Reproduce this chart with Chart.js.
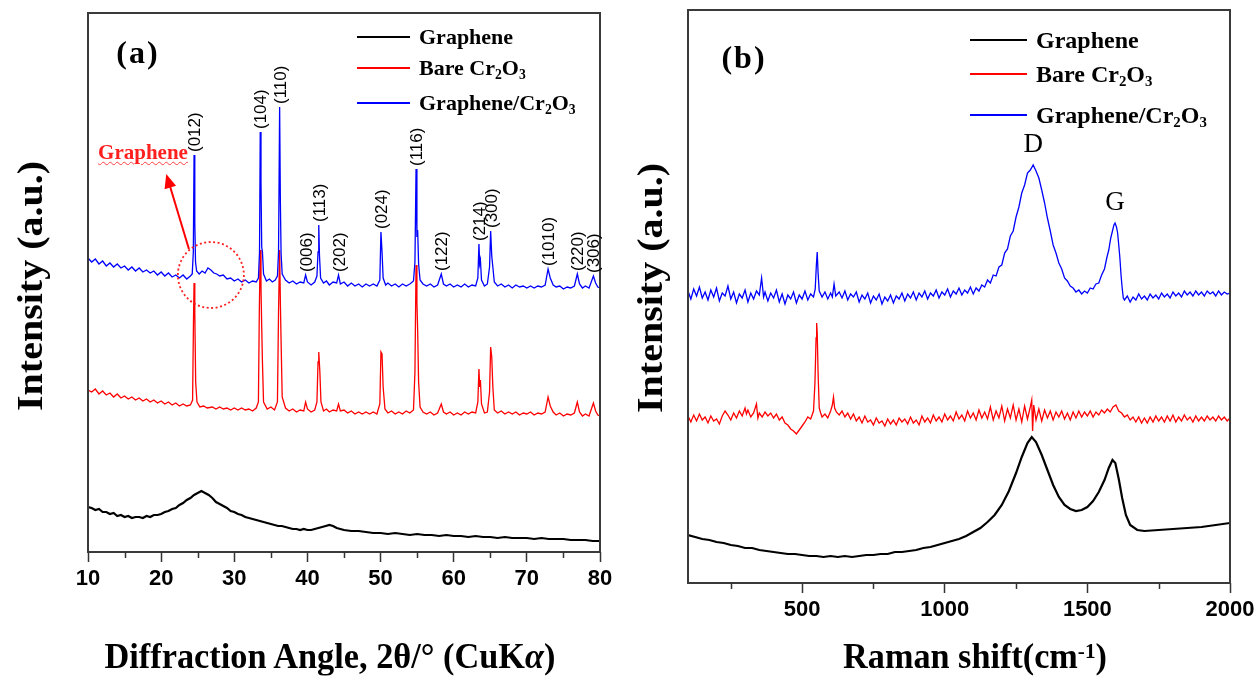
<!DOCTYPE html>
<html><head><meta charset="utf-8">
<script src="https://cdn.jsdelivr.net/npm/chart.js@4.4.1/dist/chart.umd.min.js"></script>
<style>
body{margin:0;background:#fff;}
#page{position:relative;width:1259px;height:676px;overflow:hidden;font-family:"Liberation Serif","Times New Roman",serif;}
.pane{position:absolute;top:0;height:676px;}
.t{position:absolute;white-space:nowrap;line-height:1;color:#000;}
sub{font-size:62%;vertical-align:-0.28em;line-height:0;}
sup{font-size:62%;vertical-align:0.45em;line-height:0;}
</style></head>
<body><div id="page">
<div class="pane" id="pL" style="left:0;width:640px"><canvas id="cL"></canvas></div>
<div class="pane" id="pR" style="left:640px;width:619px"><canvas id="cR"></canvas></div>
</div>
<script>
// ---------------- DATA (a) XRD ----------------
const xrdTicks = [10,20,30,40,50,60,70,80];
const xrdMinorTicks = [15,25,35,45,55,65,75];
const xrdComposite = [[10,294],[10.5,290],[11,293],[11.5,288],[12,291],[12.5,286],[13,289],[13.5,285],[14,288],[14.5,284],[15,286],[15.5,282],[16,285],[16.5,281],[17,284],[17.5,280],[18,282],[18.5,279],[19,281],[19.5,277],[20,280],[20.5,276],[21,279],[21.5,275],[22,277],[22.5,274],[23,277],[23.5,273],[24,276],[24.25,278],[24.4,300],[24.5,397],[24.6,330],[24.7,290],[24.85,281],[25.2,278],[25.6,281],[26,279],[26.4,284],[26.8,282],[27.2,279],[27.6,278],[28,276],[28.5,277],[29,273],[29.5,274],[30,271],[30.5,273],[31,270],[31.5,272],[32,269],[32.5,271],[33,270],[33.3,274],[33.45,300],[33.55,420],[33.65,370],[33.75,305],[33.85,300],[34,278],[34.4,271],[34.8,273],[35.2,270],[35.6,272],[35.9,276],[36.05,300],[36.2,445],[36.3,350],[36.4,298],[36.55,278],[37,272],[37.5,269],[38,271],[38.5,268],[39,270],[39.5,269],[39.75,277],[40,270],[40.5,267],[41,270],[41.3,276],[41.45,300],[41.55,327],[41.65,296],[41.8,274],[42.2,269],[42.6,271],[43,267],[43.5,270],[44,269],[44.25,277],[44.5,268],[45,270],[45.5,266],[46,269],[46.5,266],[47,268],[47.5,265],[48,268],[48.5,266],[49,268],[49.5,266],[49.9,272],[50.05,320],[50.2,300],[50.35,274],[50.7,267],[51,269],[51.5,266],[52,268],[52.5,265],[53,268],[53.5,266],[54,268],[54.5,271],[54.7,290],[54.85,383],[54.97,315],[55.07,322],[55.2,288],[55.4,272],[55.8,268],[56.3,266],[56.8,268],[57.3,265],[57.8,267],[58.3,278],[58.6,268],[59,266],[59.5,268],[60,265],[60.5,267],[61,265],[61.5,268],[62,265],[62.5,267],[63,266],[63.3,274],[63.45,308],[63.55,288],[63.65,292],[63.8,272],[64.2,266],[64.6,268],[64.9,285],[65.05,321],[65.2,296],[65.35,285],[65.55,270],[66,266],[66.5,268],[67,265],[67.5,267],[68,264],[68.5,267],[69,265],[69.5,266],[70,264],[70.5,266],[71,264],[71.5,266],[72,265],[72.5,267],[72.9,283],[73.2,274],[73.6,267],[74,265],[74.5,266],[75,263],[75.5,265],[76,264],[76.5,266],[76.9,278],[77.2,268],[77.6,264],[78,266],[78.5,264],[79.1,276],[79.4,269],[79.7,265],[80,264]];
const xrdBare = [[10,162],[10.5,160],[11,163],[11.5,158],[12,161],[12.5,157],[13,159],[13.5,155],[14,158],[14.5,154],[15,156],[15.5,153],[16,155],[16.5,152],[17,154],[17.5,151],[18,153],[18.5,150],[19,152],[19.5,149],[20,151],[20.5,148],[21,150],[21.5,147],[22,149],[22.5,146],[23,148],[23.5,146],[24,147],[24.3,152],[24.42,230],[24.5,269],[24.6,240],[24.72,170],[24.9,150],[25.3,145],[25.8,146],[26.3,144],[27,145],[27.5,143],[28,145],[28.5,143],[29,144],[29.5,142],[30,144],[30.5,142],[31,144],[31.5,142],[32,143],[32.5,141],[33,144],[33.3,150],[33.42,240],[33.55,302],[33.65,265],[33.75,225],[33.85,190],[34,150],[34.5,143],[35,145],[35.5,142],[35.9,150],[36.05,240],[36.2,302],[36.3,250],[36.4,210],[36.55,155],[37,144],[37.5,141],[38,143],[38.5,140],[39,142],[39.5,141],[39.75,150],[40,143],[40.5,140],[41,142],[41.3,150],[41.45,190],[41.55,200],[41.7,180],[41.85,150],[42.2,141],[42.6,143],[43,140],[43.5,142],[44,141],[44.25,148],[44.5,141],[45,142],[45.5,139],[46,141],[46.5,138],[47,140],[47.5,138],[48,140],[48.5,138],[49,140],[49.5,138],[49.9,148],[50.05,200],[50.2,198],[50.35,165],[50.6,143],[51,139],[51.5,141],[52,138],[52.5,140],[53,138],[53.5,141],[54,139],[54.5,142],[54.7,180],[54.85,287],[54.97,250],[55.07,222],[55.2,170],[55.4,145],[55.8,140],[56.3,138],[56.8,140],[57.3,137],[57.8,139],[58.3,148],[58.6,140],[59,138],[59.5,140],[60,137],[60.5,139],[61,137],[61.5,140],[62,138],[62.5,140],[63,139],[63.3,150],[63.45,183],[63.55,165],[63.65,172],[63.8,148],[64.2,139],[64.6,140],[64.9,160],[65.05,205],[65.2,195],[65.35,165],[65.55,142],[66,139],[66.5,141],[67,138],[67.5,140],[68,138],[68.5,140],[69,137],[69.5,139],[70,138],[70.5,140],[71,137],[71.5,139],[72,138],[72.5,140],[72.9,155],[73.2,146],[73.6,140],[74,137],[74.5,139],[75,136],[75.5,138],[76,137],[76.5,139],[76.9,150],[77.2,140],[77.6,136],[78,138],[78.5,136],[79.1,149],[79.4,141],[79.7,137],[80,136]];
const xrdGraphene = [[10,45],[10.5,44],[11,42],[11.5,43],[12,40],[12.5,40],[13,38],[13.5,39],[14,36],[14.5,37],[15,35],[15.5,36],[16,34],[16.5,35],[17,35],[17.5,34],[18,36],[18.5,35],[19,37],[19.5,37],[20,38],[20.5,40],[21,41],[21.5,43],[22,44],[22.5,47],[23,49],[23.5,52],[24,54],[24.5,57],[25,59],[25.5,61],[26,59],[26.5,57],[27,54],[27.5,50],[28,48],[28.5,46],[29,44],[29.5,41],[30,40],[30.5,38],[31,37],[31.5,35],[32,34],[32.5,33],[33,32],[33.5,31],[34,30],[34.5,29],[35,28],[35.5,27],[36,26],[36.5,26],[37,25],[37.5,24],[38,23],[38.5,23],[39,22],[39.5,23],[40,22],[40.5,22],[41,23],[41.5,24],[42,25],[42.5,26],[43,27],[43.5,26],[44,24],[44.5,23],[45,22],[46,21],[47,21],[48,20],[49,19],[50,19],[51,18],[52,19],[53,18],[54,17],[55,18],[56,17],[57,17],[58,16],[59,17],[60,16],[61,16],[62,15],[63,16],[64,15],[65,15],[66,14],[67,15],[68,14],[69,14],[70,14],[71,13],[72,14],[73,13],[74,13],[75,13],[76,12],[77,12],[78,12],[79,11],[80,11]];
const xrdPeakLabels = ['(012)','(104)','(110)','(006)','(113)','(202)','(024)','(116)','(122)','(214)','(300)','(1010)','(220)','(306)'];
const xrdPeakAngles = [24.5,33.55,36.2,39.75,41.55,44.25,50.05,54.85,58.3,63.45,65.05,72.9,76.9,79.1];

// ---------------- DATA (b) Raman ----------------
const ramanTicks = [500,1000,1500,2000];
const ramanMinorTicks = [250,750,1250,1750];
const ramanComposite = [[100,292],[110,284],[120,294],[130,287],[140,296],[150,285],[160,291],[170,283],[180,293],[190,286],[200,295],[210,282],[220,290],[230,287],[240,297],[250,284],[260,291],[270,280],[280,289],[290,285],[300,293],[310,281],[320,290],[330,284],[340,292],[350,288],[358,305],[365,286],[370,291],[380,282],[390,290],[400,285],[410,293],[420,281],[430,289],[440,279],[450,288],[460,284],[470,291],[480,280],[490,288],[500,284],[510,292],[520,283],[530,289],[540,286],[546,294],[550,318],[553,331],[556,310],[560,292],[570,286],[580,291],[590,284],[600,290],[606,286],[612,299],[618,287],[630,291],[640,285],[650,292],[660,283],[670,289],[680,286],[690,291],[700,281],[710,288],[720,284],[730,290],[740,280],[750,287],[760,283],[770,289],[780,279],[790,286],[800,282],[810,288],[820,280],[830,287],[840,284],[850,290],[860,282],[870,289],[880,285],[890,291],[900,283],[910,290],[920,286],[930,292],[940,284],[950,290],[960,287],[970,293],[980,285],[990,291],[1000,288],[1010,294],[1020,286],[1030,292],[1040,289],[1050,295],[1060,288],[1070,293],[1080,290],[1090,296],[1100,289],[1110,295],[1120,292],[1130,298],[1140,296],[1150,303],[1160,300],[1170,308],[1180,307],[1190,316],[1200,318],[1210,330],[1220,334],[1230,347],[1240,352],[1250,366],[1260,376],[1270,390],[1280,398],[1290,410],[1300,413],[1310,418],[1320,412],[1330,405],[1340,393],[1350,380],[1360,365],[1370,352],[1380,338],[1390,330],[1400,320],[1410,314],[1420,305],[1430,302],[1440,297],[1450,295],[1460,291],[1470,293],[1480,289],[1490,292],[1500,290],[1510,295],[1520,294],[1530,299],[1540,300],[1550,308],[1560,314],[1568,325],[1575,333],[1582,345],[1588,352],[1593,358],[1597,360],[1602,356],[1606,350],[1610,338],[1614,325],[1618,308],[1622,295],[1626,285],[1630,283],[1640,287],[1650,281],[1660,286],[1670,283],[1680,289],[1690,284],[1700,287],[1710,283],[1720,289],[1730,285],[1740,288],[1750,284],[1760,290],[1770,286],[1780,289],[1790,285],[1800,291],[1810,287],[1820,290],[1830,286],[1840,292],[1850,288],[1860,291],[1870,287],[1880,292],[1890,288],[1900,291],[1910,287],[1920,292],[1930,289],[1940,291],[1950,287],[1960,292],[1970,288],[1980,291],[1990,289],[2000,290]];
const ramanBare = [[100,167],[110,161],[120,168],[130,162],[140,169],[150,163],[160,166],[170,160],[180,167],[190,162],[200,164],[210,159],[220,167],[230,172],[240,168],[250,163],[260,170],[270,165],[280,172],[290,167],[300,175],[305,169],[310,173],[320,166],[330,170],[340,179],[345,165],[350,170],[360,166],[370,171],[380,167],[390,170],[400,165],[410,169],[420,163],[430,166],[440,160],[450,158],[460,154],[470,152],[480,149],[490,153],[500,157],[510,161],[520,166],[530,164],[540,172],[545,200],[549,245],[551,260],[553,250],[556,210],[560,175],[565,170],[570,166],[580,169],[590,165],[600,172],[606,178],[610,186],[614,175],[620,171],[630,168],[640,172],[650,166],[660,170],[670,164],[680,169],[690,162],[700,166],[710,160],[720,167],[730,161],[740,163],[750,158],[760,165],[770,160],[780,162],[790,157],[800,164],[810,159],[820,163],[830,158],[840,165],[850,161],[860,164],[870,159],[880,166],[890,160],[900,163],[910,158],[920,167],[930,161],[940,165],[950,160],[960,168],[970,162],[980,166],[990,161],[1000,169],[1010,163],[1020,167],[1030,162],[1040,171],[1050,164],[1060,168],[1070,162],[1080,172],[1090,165],[1100,170],[1110,163],[1120,173],[1130,165],[1140,171],[1150,164],[1160,176],[1170,163],[1180,172],[1190,165],[1200,177],[1210,162],[1220,174],[1230,165],[1240,178],[1250,163],[1260,174],[1270,161],[1280,177],[1290,164],[1300,176],[1305,183],[1308,152],[1312,178],[1320,163],[1330,174],[1340,162],[1350,173],[1360,165],[1370,172],[1380,163],[1390,171],[1400,166],[1410,172],[1420,164],[1430,170],[1440,163],[1450,171],[1460,165],[1470,172],[1480,166],[1490,171],[1500,167],[1510,172],[1520,166],[1530,171],[1540,168],[1550,173],[1560,170],[1570,174],[1580,171],[1590,176],[1600,178],[1610,172],[1620,170],[1630,166],[1640,168],[1650,163],[1660,166],[1670,161],[1680,166],[1690,160],[1700,165],[1710,160],[1720,166],[1730,161],[1740,167],[1750,162],[1760,166],[1770,161],[1780,167],[1790,162],[1800,168],[1810,161],[1820,166],[1830,162],[1840,168],[1850,163],[1860,166],[1870,161],[1880,167],[1890,162],[1900,166],[1910,162],[1920,167],[1930,163],[1940,166],[1950,162],[1960,167],[1970,163],[1980,166],[1990,162],[2000,165]];
const ramanGraphene = [[100,48],[125,46],[150,44],[175,43],[200,41],[225,40],[250,38],[275,37],[300,35],[325,35],[350,33],[375,32],[400,31],[425,30],[450,29],[475,29],[500,28],[525,27],[550,27],[575,26],[600,27],[625,26],[650,27],[675,26],[700,27],[725,28],[750,28],[775,29],[800,29],[825,31],[850,31],[875,32],[900,33],[925,35],[950,36],[975,38],[1000,40],[1025,42],[1050,44],[1075,47],[1100,51],[1125,55],[1150,61],[1175,68],[1200,78],[1225,92],[1250,110],[1270,126],[1290,140],[1305,146],[1320,141],[1340,128],[1360,113],[1380,98],[1400,86],[1420,78],[1440,74],[1460,72],[1480,73],[1500,76],[1520,82],[1540,91],[1560,103],[1575,115],[1588,123],[1598,120],[1610,104],[1622,85],[1635,68],[1650,58],[1675,53],[1700,52],[1750,53],[1800,54],[1850,55],[1900,56],[1950,58],[2000,60]];
const ramanBandLabels = ['D','G'];
const ramanBandShifts = [1310,1597];

const seriesNames = ['Graphene','Bare Cr<sub>2</sub>O<sub>3</sub>','Graphene/Cr<sub>2</sub>O<sub>3</sub>'];
const seriesColors = ['#000000','#ff0000','#0000ff'];

// ---------------- helpers ----------------
const toXY = a => a.map(p => ({x:p[0], y:p[1]}));
const page = document.getElementById('page');
function addText(html, x, y, css, transform, fitW){
  const d = document.createElement('div');
  d.className = 't';
  d.innerHTML = html;
  d.style.left = x + 'px'; d.style.top = y + 'px';
  Object.assign(d.style, css || {});
  page.appendChild(d);
  let tf = transform || 'translate(-50%,-50%)';
  if (fitW) tf += ` scale(${(fitW / d.offsetWidth).toFixed(4)},1)`;
  d.style.transform = tf;
  return d;
}
function addLine(x1, x2, y, color, w){
  const d = document.createElement('div');
  d.style.cssText = `position:absolute;left:${x1}px;top:${y - w/2}px;width:${x2-x1}px;height:${w}px;background:${color}`;
  page.appendChild(d);
}

function framePlugin(minor, extra){
  return {
    id:'frame',
    afterDatasetsDraw(chart){
      const {ctx, chartArea:a, scales} = chart;
      ctx.save();
      ctx.strokeStyle = '#3a3a3a'; ctx.lineWidth = 2;
      ctx.strokeRect(a.left, a.top, a.right - a.left, a.bottom - a.top);
      ctx.lineWidth = 1.5; ctx.strokeStyle = '#333';
      minor.forEach(v => {
        const x = Math.round(scales.x.getPixelForValue(v)) + 0.5;
        ctx.beginPath(); ctx.moveTo(x, a.bottom); ctx.lineTo(x, a.bottom + 6); ctx.stroke();
      });
      if (extra) extra(chart, ctx);
      ctx.restore();
    }
  };
}

function makeChart(id, opt){
  const ds = [
    {data: toXY(opt.series[2]), borderColor: seriesColors[2], borderWidth: 1.3, order: 0},
    {data: toXY(opt.series[1]), borderColor: seriesColors[1], borderWidth: 1.3, order: 1},
    {data: toXY(opt.series[0]), borderColor: seriesColors[0], borderWidth: 2.2, order: 2}
  ].map(d => Object.assign(d, {pointRadius:0, tension:0, fill:false}));
  return new Chart(document.getElementById(id), {
    type:'line',
    data:{datasets: ds},
    options:{
      responsive:true, maintainAspectRatio:false, animation:false, devicePixelRatio:1,
      layout:{padding: opt.padding},
      plugins:{legend:{display:false}, tooltip:{enabled:false}},
      scales:{
        x:{type:'linear', min: opt.xMin, max: opt.xMax,
           afterBuildTicks: s => { s.ticks = opt.ticks.map(v => ({value:v})); },
           afterFit: s => { s.height = 50; },
           border:{display:false},
           grid:{drawOnChartArea:false, drawTicks:true, tickLength:10, tickColor:'#333', tickWidth:1.5},
           ticks:{autoSkip:false, maxRotation:0, padding:4, color:'#000',
                  callback: v => String(v),
                  font:{family:'"Liberation Sans", Arial, sans-serif', size:22, weight:'bold'}}},
        y:{display:false, min:0, max: opt.yMax}
      }
    },
    plugins:[framePlugin(opt.minor, opt.extra)]
  });
}

// ---------------- charts ----------------
const chartL = makeChart('cL', {
  xMin:10, xMax:80, yMax:539, ticks: xrdTicks, minor: xrdMinorTicks,
  series:[xrdGraphene, xrdBare, xrdComposite],
  padding:{left:88, top:13, right:40, bottom:74},
  extra(chart, ctx){
    const sx = chart.scales.x, sy = chart.scales.y;
    ctx.strokeStyle = '#ff2020'; ctx.lineWidth = 1.8; ctx.setLineDash([2,2.5]);
    ctx.beginPath(); ctx.arc(sx.getPixelForValue(26.8), sy.getPixelForValue(277), 33, 0, Math.PI*2); ctx.stroke();
    ctx.setLineDash([]);
    const x1 = sx.getPixelForValue(23.8), y1 = sy.getPixelForValue(303);
    const x2 = sx.getPixelForValue(20.7), y2 = sy.getPixelForValue(378);
    ctx.strokeStyle = '#ff0000'; ctx.fillStyle = '#ff0000'; ctx.lineWidth = 2;
    const ang = Math.atan2(y2 - y1, x2 - x1);
    ctx.beginPath(); ctx.moveTo(x1, y1); ctx.lineTo(x2 - 10*Math.cos(ang), y2 - 10*Math.sin(ang)); ctx.stroke();
    ctx.beginPath(); ctx.moveTo(x2, y2);
    ctx.lineTo(x2 - 14*Math.cos(ang) + 6*Math.sin(ang), y2 - 14*Math.sin(ang) - 6*Math.cos(ang));
    ctx.lineTo(x2 - 14*Math.cos(ang) - 6*Math.sin(ang), y2 - 14*Math.sin(ang) + 6*Math.cos(ang));
    ctx.closePath(); ctx.fill();
  }
});
const chartR = makeChart('cR', {
  xMin:100, xMax:2000, yMax:573, ticks: ramanTicks, minor: ramanMinorTicks,
  series:[ramanGraphene, ramanBare, ramanComposite],
  padding:{left:48, top:10, right:29, bottom:43}
});

// ---------------- text overlays ----------------
const offR = 640;
addText('Intensity (a.u.)', 30, 286, {fontSize:'36px', fontWeight:'bold'}, 'translate(-50%,-50%) rotate(-90deg)', 250);
addText('Intensity (a.u.)', 650, 288, {fontSize:'36px', fontWeight:'bold'}, 'translate(-50%,-50%) rotate(-90deg)', 250);
addText('Diffraction Angle, 2θ/° (CuK<i>α</i>)', 330, 656, {fontSize:'35px', fontWeight:'bold'}, null, 451);
addText('Raman shift(cm<sup>-1</sup>)', 975, 656, {fontSize:'35px', fontWeight:'bold'}, null, 264);
addText('(a)', 138, 52, {fontSize:'32px', fontWeight:'bold', letterSpacing:'2px'});
addText('(b)', 744, 57, {fontSize:'32px', fontWeight:'bold', letterSpacing:'2px'});
const legL = {x1:357, x2:410, tx:419, ys:[37,68,103], size:'22px'};
const legR = {x1:970, x2:1027, tx:1036, ys:[40,74,115], size:'24px'};
[legL, legR].forEach(L => {
  seriesNames.forEach((n, i) => {
    addLine(L.x1, L.x2, L.ys[i], seriesColors[i], 1.5);
    addText(n, L.tx, L.ys[i], {fontSize:L.size, fontWeight:'bold'}, 'translate(0,-50%)');
  });
});
const sxL = chartL.scales.x, syL = chartL.scales.y;
xrdPeakLabels.forEach((lab, i) => {
  const a = xrdPeakAngles[i];
  const top = Math.max(...xrdComposite.filter(p => Math.abs(p[0]-a) < 0.3).map(p => p[1]));
  const px = sxL.getPixelForValue(a), py = syL.getPixelForValue(top) - 3;
  addText(lab, px, py, {fontSize:'17px', fontFamily:'"Liberation Sans", Arial, sans-serif', transformOrigin:'0 0'}, 'rotate(-90deg) translate(0,-50%)');
});
addText('Graphene', 143, 152, {fontSize:'21px', fontWeight:'bold', color:'#ff2020', textDecoration:'underline wavy #ff4040', textDecorationThickness:'1px', textUnderlineOffset:'2px'});
const sxR = chartR.scales.x, syR = chartR.scales.y;
ramanBandLabels.forEach((lab, i) => {
  const s = ramanBandShifts[i];
  const top = Math.max(...ramanComposite.filter(p => Math.abs(p[0]-s) < 15).map(p => p[1]));
  addText(lab, offR + sxR.getPixelForValue(s), syR.getPixelForValue(top) - 22, {fontSize:'27px'});
});
</script>
</body></html>
